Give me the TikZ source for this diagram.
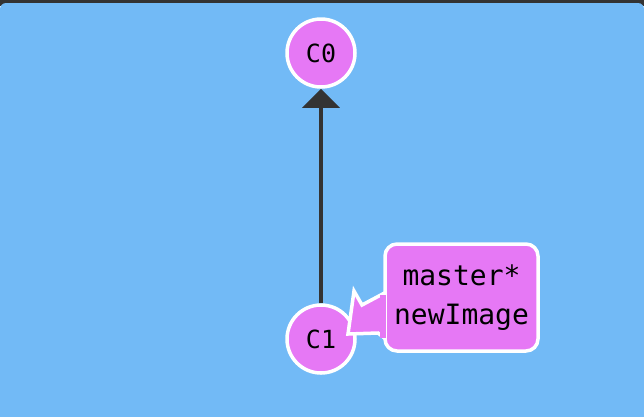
\documentclass[tikz,border=0pt]{standalone}
\usepackage{fontspec}
\setmonofont{DejaVu Sans Mono}
\usetikzlibrary{arrows.meta}
\definecolor{bgblue}{HTML}{72BAF6}
\definecolor{nodepink}{HTML}{E678F5}
\definecolor{darkline}{HTML}{333333}
\begin{document}
\begin{tikzpicture}[x=1pt,y=-1pt,
  commit/.style={circle,draw=white,line width=3.5pt,fill=nodepink,minimum size=68pt,inner sep=0pt,font=\ttfamily\fontsize{25}{28}\selectfont},
  branchbox/.style={rounded corners=12pt,draw=white,line width=3.5pt,fill=nodepink,minimum width=153pt,minimum height=107pt,inner sep=0pt,align=center,font=\ttfamily\fontsize{28}{39}\selectfont}]
\useasboundingbox (0,0) rectangle (644,416);
\fill[darkline] (0,0) rectangle (644,6);
\fill[bgblue,rounded corners=6pt] (0,3) rectangle (644,430);
\node[commit] (c0) at (321,53) {C0};
\node[commit] (c1) at (321,339) {C1};
\draw[darkline,line width=4pt,-{Triangle[length=19pt,width=37pt]}] (c1.north) -- (c0.south);
\filldraw[fill=nodepink,draw=white,line width=3.5pt,line join=miter]
  (392,289) -- (362,305) -- (354,291) -- (348,334) -- (378,333) -- (392,344) -- cycle;
\node[branchbox] (lbl) at (461.5,297.5) {master*\\newImage};
\fill[nodepink] ([xshift=-3pt]lbl.west|-0,295) rectangle ([xshift=3pt]lbl.west|-0,338);
\end{tikzpicture}
\end{document}
